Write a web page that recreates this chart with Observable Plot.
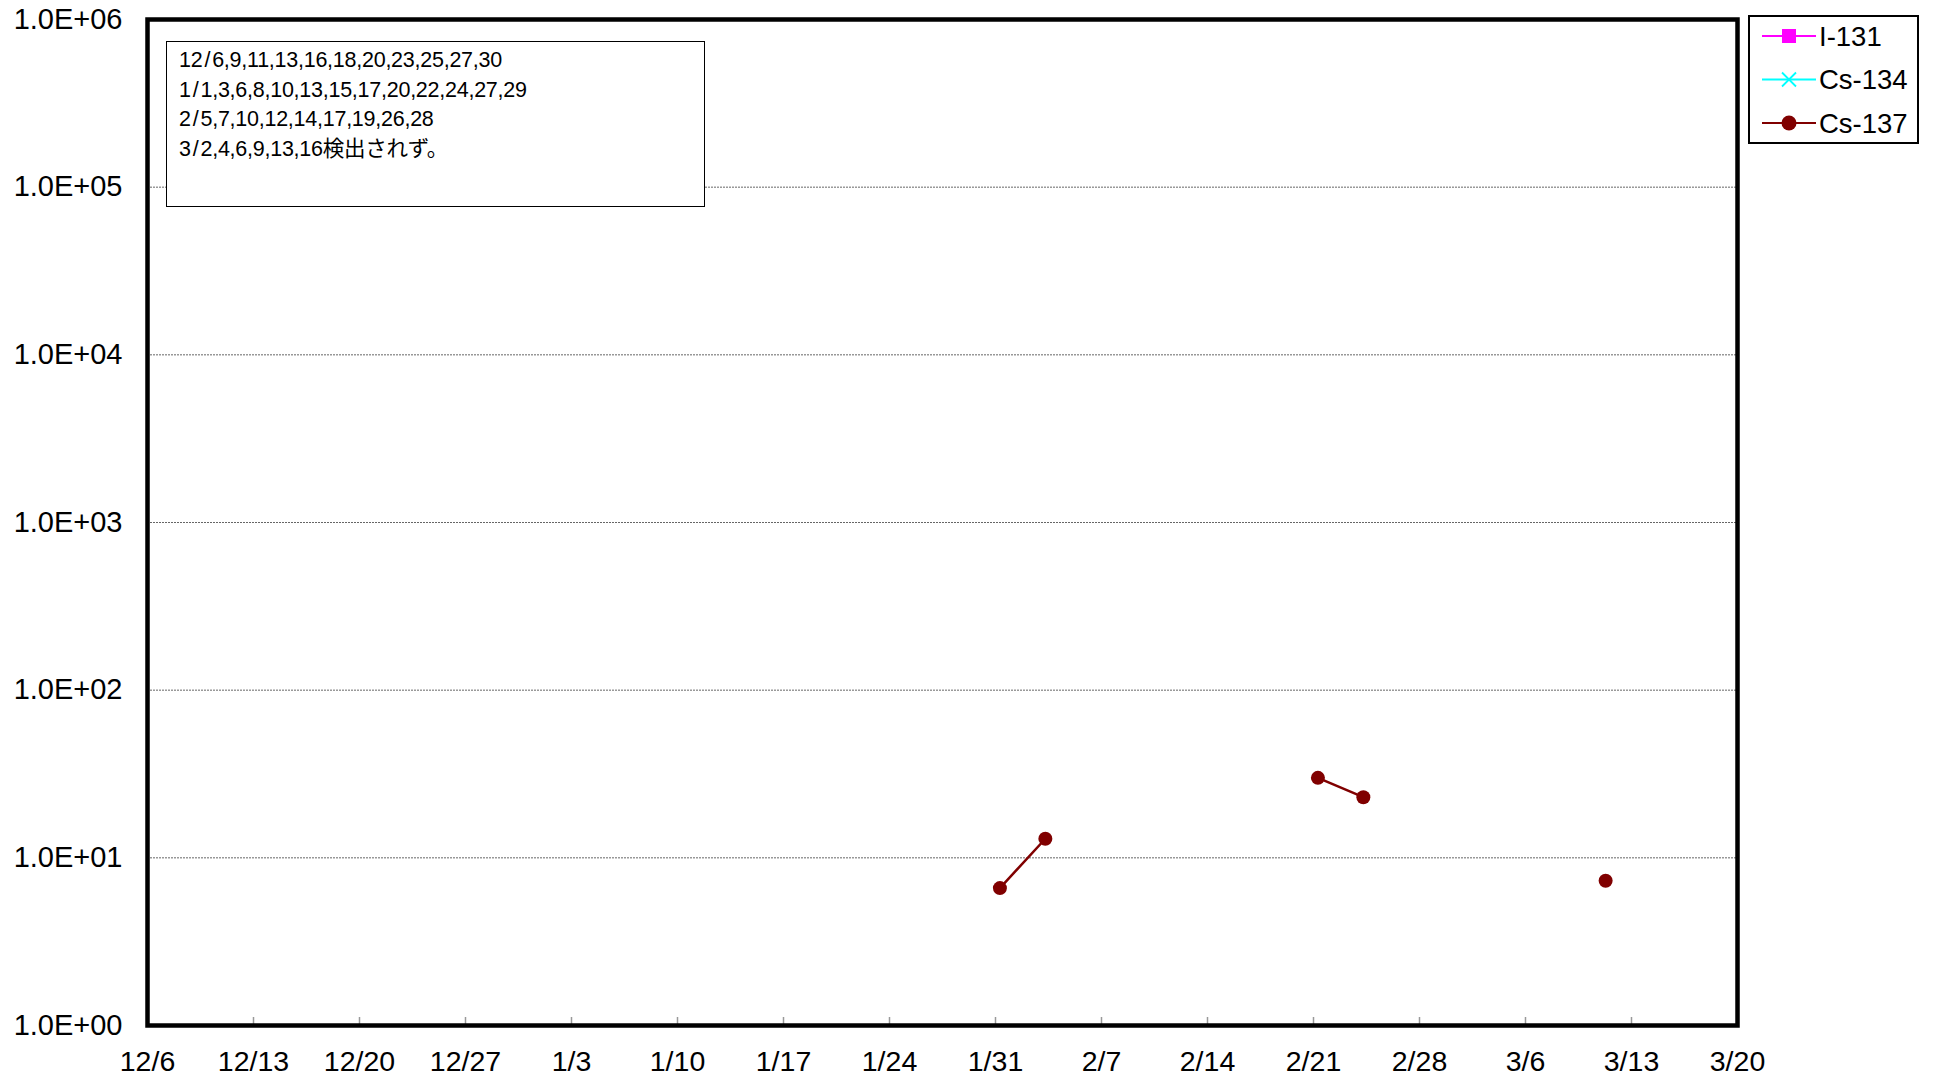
<!DOCTYPE html>
<html>
<head>
<meta charset="utf-8">
<script src="https://cdn.jsdelivr.net/npm/d3@7"></script>
<script src="https://cdn.jsdelivr.net/npm/@observablehq/plot@0.6"></script>
<style>
  html, body { margin: 0; padding: 0; background: #fff; }
  #wrap { position: relative; width: 1936px; height: 1080px; overflow: hidden; font-family: "Liberation Sans", Arial, sans-serif; }
  #note { position: absolute; left: 166px; top: 41px; width: 539px; height: 166px; border: 1.5px solid #000; background: #fff; box-sizing: border-box;
          font-family: "Liberation Sans", "Noto Sans CJK JP", sans-serif; font-size: 21.5px; line-height: 29.5px; padding: 4px 0 0 12px; color: #000; letter-spacing: -0.25px; }
  #note .sl { margin: 0 2px; }
  #legend { position: absolute; left: 1748px; top: 15px; width: 171px; height: 129px; border: 2px solid #000; box-sizing: border-box; background: #fff; }
</style>
</head>
<body>
<div id="wrap">
  <div id="chart"></div>
  <div id="note"></div>
  <div id="legend"></div>
</div>
<script>
// ---- data ----
const seriesNames = ["I-131", "Cs-134", "Cs-137"];
const seriesColors = ["#FF00FF", "#00FFFF", "#800000"];
// detected Cs-137 with sample dates; null = not detected (breaks line)
const cs137Dates = ["2012-01-29", "2012-01-31", "2012-02-03", "2012-02-05", "2012-02-19", "2012-02-21", "2012-02-24", "2012-02-26", "2012-03-09", "2012-03-11", "2012-03-13"];
const cs137Values = [null, 6.6, 13, null, null, 30, 23, null, null, 7.3, null];
const i131Dates = [];
const i131Values = [];
const cs134Dates = [];
const cs134Values = [];
const xTickLabels = ["12/6","12/13","12/20","12/27","1/3","1/10","1/17","1/24","1/31","2/7","2/14","2/21","2/28","3/6","3/13","3/20"];
const xTickDates = ["2011-12-06","2011-12-13","2011-12-20","2011-12-27","2012-01-03","2012-01-10","2012-01-17","2012-01-24","2012-01-31","2012-02-07","2012-02-14","2012-02-21","2012-02-28","2012-03-06","2012-03-13","2012-03-20"];
const yTicks = [1, 10, 100, 1000, 10000, 100000, 1000000];
const noteLines = [
  "12/6,9,11,13,16,18,20,23,25,27,30",
  "1/1,3,6,8,10,13,15,17,20,22,24,27,29",
  "2/5,7,10,12,14,17,19,26,28",
  "3/2,4,6,9,13,16検出されず。"
];

// ---- build ----
const sampleTime = "T07:00:00Z";
const rows = cs137Dates.map((d, i) => ({date: new Date(d + sampleTime), value: cs137Values[i] == null ? NaN : cs137Values[i]}));
const tickDates = xTickDates.map(d => new Date(d + "T00:00:00Z"));
const fmtX = d => xTickLabels[tickDates.findIndex(t => +t === +d)];
const fmtY = d => "1.0E+" + String(Math.round(Math.log10(d))).padStart(2, "0");

const chart = Plot.plot({
  width: 1936,
  height: 1080,
  marginLeft: 147,
  marginRight: 199,
  marginTop: 19,
  marginBottom: 55,
  style: {fontFamily: "'Liberation Sans', Arial, sans-serif", background: "#fff", color: "#000"},
  x: {type: "utc", domain: [tickDates[0], tickDates[tickDates.length - 1]]},
  y: {type: "log", domain: [1, 1e6]},
  marks: [
    Plot.gridY(yTicks, {stroke: "#666", strokeOpacity: 1, strokeWidth: 1, strokeDasharray: "2,1"}),
    Plot.axisX(tickDates.slice(1, -1), {tickSize: -8, stroke: "#999", strokeWidth: 1.5, text: null, label: null}),
    Plot.axisX(tickDates, {tickSize: 0, tickPadding: 25, tickFormat: fmtX, fontSize: 28.5, label: null, fill: "#000"}),
    Plot.axisY(yTicks, {tickSize: 0, tickPadding: 25, tickFormat: fmtY, fontSize: 29, label: null, fill: "#000"}),
    Plot.frame({stroke: "#000", strokeWidth: 4.5}),
    Plot.line(rows, {x: "date", y: "value", stroke: seriesColors[2], strokeWidth: 2.5}),
    Plot.dot(rows, {x: "date", y: "value", r: 7, fill: seriesColors[2], stroke: "none"})
  ]
});
document.getElementById("chart").appendChild(chart);

// note box
const note = document.getElementById("note");
noteLines.forEach(t => {
  const div = document.createElement("div");
  const k = t.indexOf("/");
  div.appendChild(document.createTextNode(t.slice(0, k)));
  const s = document.createElement("span"); s.className = "sl"; s.textContent = "/"; div.appendChild(s);
  div.appendChild(document.createTextNode(t.slice(k + 1)));
  note.appendChild(div);
});

// legend
const leg = d3.select("#legend").append("svg").attr("width", 167).attr("height", 125)
  .style("font-family", "'Liberation Sans', Arial, sans-serif");
seriesNames.forEach((name, i) => {
  const y = 19 + i * 43.5;
  const g = leg.append("g");
  g.append("line").attr("x1", 12).attr("x2", 66).attr("y1", y).attr("y2", y).attr("stroke", seriesColors[i]).attr("stroke-width", 2.2);
  if (i === 0) g.append("rect").attr("x", 32).attr("y", y - 7).attr("width", 14).attr("height", 14).attr("fill", seriesColors[i]);
  if (i === 1) g.append("path").attr("d", `M32,${y-7}L46,${y+7}M32,${y+7}L46,${y-7}`).attr("stroke", seriesColors[i]).attr("stroke-width", 1.8);
  if (i === 2) g.append("circle").attr("cx", 39).attr("cy", y).attr("r", 7.5).attr("fill", seriesColors[i]);
  g.append("text").attr("x", 69).attr("y", y).attr("dy", "0.36em").attr("font-size", 27.5).text(name);
});
</script>
</body>
</html>
